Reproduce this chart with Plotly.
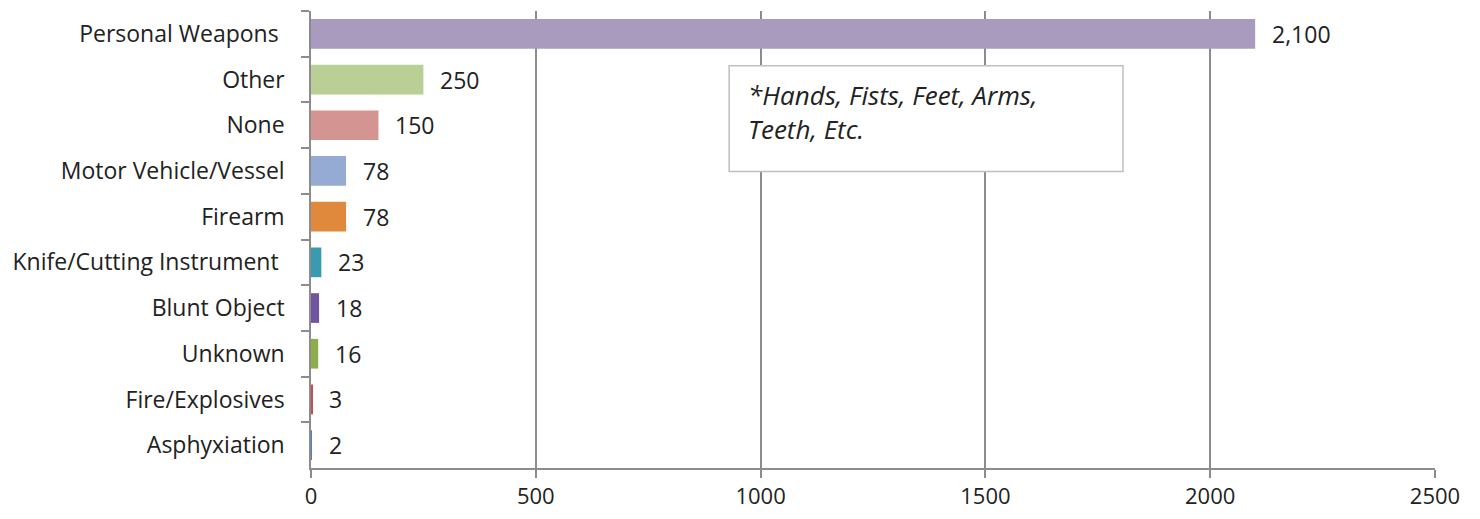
import plotly.graph_objects as go

categories = ["Personal Weapons ", "Other", "None", "Motor Vehicle/Vessel", "Firearm",
              "Knife/Cutting Instrument ", "Blunt Object", "Unknown", "Fire/Explosives", "Asphyxiation"]
values = [2100, 250, 150, 78, 78, 23, 18, 16, 3, 2]
colors = ["#A99BBD", "#B9CF96", "#D49491", "#95ABD4", "#E0883B",
          "#3A9AB1", "#7155A0", "#8CAD4C", "#C0504D", "#4F81BD"]
x_ticks = [0, 500, 1000, 1500, 2000, 2500]
note = "*Hands, Fists, Feet, Arms,<br>Teeth, Etc."

font = "'Open Sans', 'Noto Sans', sans-serif"

fig = go.Figure(go.Bar(
    x=values, y=categories, orientation="h",
    marker=dict(color=colors, line=dict(width=0)),
    width=0.65, showlegend=False, hoverinfo="x+y",
))

# value labels just right of each bar end
for cat, val in zip(categories, values):
    fig.add_annotation(x=val, y=cat, text=f"{val:,}", showarrow=False,
                       xanchor="left", xshift=15, font=dict(size=23, color="#222"))

# note box
fig.add_shape(type="rect", xref="x", yref="paper", x0=930, x1=1806, y0=0.649, y1=0.88,
              line=dict(color="#BFBFBF", width=1.5), fillcolor="white", layer="above")
fig.add_annotation(xref="x", yref="paper", x=968, y=0.778, text=note, showarrow=False,
                   xanchor="left", yanchor="middle", align="left",
                   font=dict(size=26, color="#222", family=font, style="italic"))

# page body adds ~7px offset, so the figure is sized a little under the window
fig.update_layout(
    width=1466, height=505,
    margin=dict(l=303, r=39, t=3, b=41),
    plot_bgcolor="white", paper_bgcolor="white",
    font=dict(family=font, size=22, color="#222"),
    bargap=0.35,
)
fig.update_xaxes(range=[0, 2500], tickvals=x_ticks, showgrid=True, gridcolor="#8C8C8C",
                 gridwidth=1.5, showline=True, linecolor="#8C8C8C", linewidth=1.5,
                 ticks="outside", ticklen=8, tickcolor="#8C8C8C", tickwidth=1.5,
                 zeroline=False, tickfont=dict(size=22), fixedrange=True)
fig.update_yaxes(autorange="reversed", showline=True, linecolor="#8C8C8C", linewidth=1.5,
                 ticks="outside", ticklen=8, tickcolor="#8C8C8C", tickwidth=1.5,
                 tickson="boundaries", ticklabelstandoff=20, tickfont=dict(size=23),
                 showgrid=False, fixedrange=True)

fig.write_html("out.html")
